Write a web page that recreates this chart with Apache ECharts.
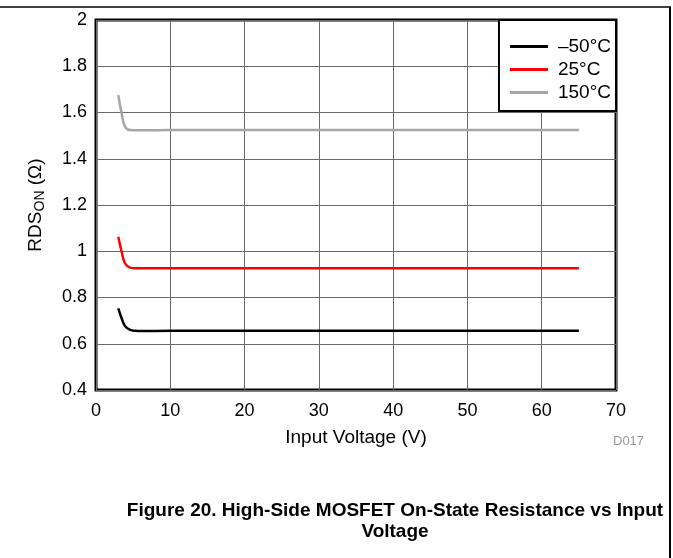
<!DOCTYPE html>
<html>
<head>
<meta charset="utf-8">
<title>High-Side MOSFET On-State Resistance vs Input Voltage</title>
<script src="https://cdn.jsdelivr.net/npm/echarts@6/dist/echarts.min.js"></script>
<style>
  html, body { margin: 0; padding: 0; background: #fff; }
  #chart { width: 673px; height: 558px; }
</style>
</head>
<body>
<div id="chart"></div>
<script>
// input voltage (V) sample points
const voltage = [3, 3.45, 3.9, 4.6, 5.3, 6, 10, 20, 30, 40, 50, 60, 65]
// RDS_ON (ohm) per temperature
const rdsMinus50 = [0.753, 0.71, 0.677, 0.66, 0.656, 0.655, 0.656, 0.656, 0.656, 0.656, 0.656, 0.656, 0.656]
const rds25 = [1.063, 0.998, 0.948, 0.929, 0.926, 0.926, 0.927, 0.927, 0.927, 0.927, 0.927, 0.927, 0.927]
const rds150 = [1.676, 1.597, 1.539, 1.524, 1.523, 1.523, 1.524, 1.524, 1.524, 1.524, 1.524, 1.524, 1.524]
const seriesNames = ['\u201350\u00B0C', '25\u00B0C', '150\u00B0C']
const seriesColors = ['#000000', '#ff0000', '#a6a6a6']

const chart = echarts.init(document.getElementById('chart'), null, { renderer: 'canvas' })

function pairs(ys) {
  return voltage.map((v, i) => [v, ys[i]])
}

const font = 'Liberation Sans, Arial, sans-serif'
const seriesData = [rdsMinus50, rds25, rds150]
let series = []
for (let i = 0; i < seriesData.length; i++) {
  series.push({
    name: seriesNames[i],
    type: 'line',
    smooth: 0.4,
    symbol: 'none',
    lineStyle: { color: seriesColors[i], width: 2.5 },
    itemStyle: { color: seriesColors[i] },
    data: pairs(seriesData[i])
  })
}

chart.setOption({
  animation: false,
  backgroundColor: '#fff',
  textStyle: { fontFamily: font },
  grid: {
    left: 96,
    right: 57,
    top: 20,
    bottom: 168,
    show: true,
    borderColor: '#000',
    borderWidth: 3,
    backgroundColor: 'transparent'
  },
  legend: {
    data: seriesNames,
    orient: 'vertical',
    right: 57,
    top: 20,
    icon: 'rect',
    padding: [17, 5, 9, 11],
    itemGap: 4,
    itemWidth: 38,
    itemHeight: 3,
    backgroundColor: '#fff',
    borderColor: '#000',
    borderWidth: 2,
    borderRadius: 0,
    textStyle: { fontSize: 19, color: '#000', fontFamily: font, padding: [0, 0, 0, 5] }
  },
  xAxis: {
    type: 'value',
    min: 0,
    max: 70,
    interval: 10,
    name: 'Input Voltage (V)',
    nameLocation: 'middle',
    nameGap: 38,
    nameTextStyle: { fontSize: 19, color: '#000' },
    axisLine: { show: false },
    axisTick: { show: false },
    axisLabel: { fontSize: 18, color: '#000', margin: 12 },
    splitLine: { show: true, lineStyle: { color: '#6a6a6a', width: 1 } }
  },
  yAxis: {
    type: 'value',
    min: 0.4,
    max: 2,
    interval: 0.2,
    name: '{a|RDS}{b|ON}{a| (\u03A9)}',
    nameLocation: 'middle',
    nameGap: 49,
    nameTextStyle: {
      rich: {
        a: { fontSize: 19, color: '#000', fontFamily: font },
        b: { fontSize: 14, color: '#000', fontFamily: font, padding: [9, 0, 0, 0] }
      }
    },
    axisLine: { show: false },
    axisTick: { show: false },
    axisLabel: {
      fontSize: 18,
      color: '#000',
      margin: 9,
      formatter: function (v) { return String(Math.round(v * 10) / 10) }
    },
    splitLine: { show: true, lineStyle: { color: '#6a6a6a', width: 1 } }
  },
  graphic: [
    // page frame remnants
    { type: 'line', shape: { x1: 0, y1: 7, x2: 671, y2: 7 }, style: { stroke: '#000', lineWidth: 1.5 } },
    { type: 'line', shape: { x1: 670, y1: 7, x2: 670, y2: 558 }, style: { stroke: '#000', lineWidth: 2 } },
    {
      type: 'text', left: 613, top: 435,
      style: { text: 'D017', fontSize: 13, fill: '#999', fontFamily: font }
    },
    {
      type: 'text', x: 395, y: 521,
      style: {
        text: 'Figure 20. High-Side MOSFET On-State Resistance vs Input\nVoltage',
        fontSize: 19, fontWeight: 'bold', fill: '#000', fontFamily: font,
        align: 'center', verticalAlign: 'middle', lineHeight: 21
      }
    }
  ],
  series: series
})
</script>
</body>
</html>
